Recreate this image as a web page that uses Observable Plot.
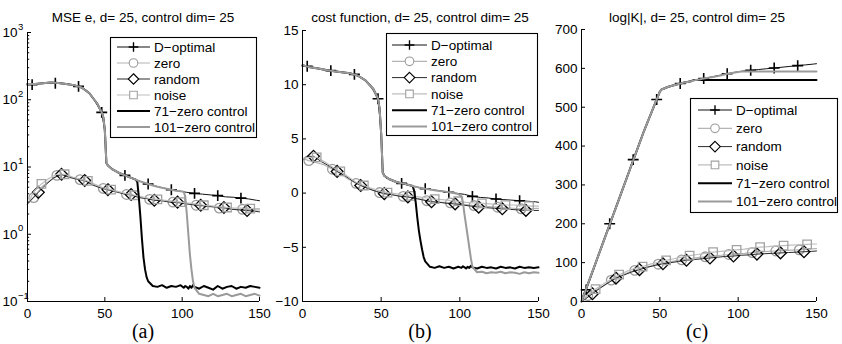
<!DOCTYPE html>
<html>
<head>
<meta charset="utf-8">
<script src="https://cdn.jsdelivr.net/npm/d3@7"></script>
<script src="https://cdn.jsdelivr.net/npm/@observablehq/plot@0.6"></script>
<style>
  html, body { margin: 0; padding: 0; background: #fff; }
  #fig { position: relative; width: 842px; height: 344px; overflow: hidden; background: #fff;
         font-family: "Liberation Sans", Arial, Helvetica, sans-serif; }
  #fig > svg { position: absolute; top: 0; overflow: visible; }
</style>
</head>
<body>
<div id="fig"></div>
<script>
// ---- iteration grids (one per strategy) ----
const xD  = [0,3,8,13,18,23,28,33,38,43,48,50,51,53,58,63,68,73,78,83,88,93,98,103,108,113,118,123,128,133,138,143,148,150];
const xZN = [0,4,9,14,19,24,29,34,39,44,49,54,59,64,69,74,79,84,89,94,99,104,109,114,119,124,129,134,139,144,149,150];
const xR  = [0,2,7,12,17,22,27,32,37,42,47,52,57,62,67,72,77,82,87,92,97,102,107,112,117,122,127,132,137,142,147,150];
const xC  = [0,5,10,15,20,25,30,35,40,45,48,49,50,51,52,55,60,65,70,71,72,73,74,75,76,77,78,81,84,87,90,93,96,99,
             101,102,103,104,105,106,107,108,111,114,117,120,123,126,129,132,135,138,141,144,147,150];

// marker positions
const mD = [3,18,33,48,63,78,93,108,123,138];
const mZ = [4,19,34,49,64,79,94,109,124,139];
const mR = [7,22,37,52,67,82,97,112,127,142];
const mN = [9,24,39,54,69,84,99,114,129,144];

// ---- (a) MSE e ----
const aD   = [172,168,175,178,176,175,168,158,140,100,65,35,11.5,10,8.4,7.5,6.8,6.1,5.6,5.2,4.85,4.6,4.4,4.2,4.05,3.95,3.85,3.75,3.6,3.55,3.45,3.35,3.2,3.15];
const aZ   = [2.8,3.5,5.0,6.2,7.5,7.6,7.0,6.5,6.0,5.4,4.8,4.5,4.2,3.9,3.7,3.5,3.3,3.2,3.1,3.0,2.9,2.8,2.7,2.6,2.55,2.45,2.4,2.35,2.35,2.3,2.3,2.3];
const aR   = [2.8,3.2,4.2,5.5,6.9,7.8,7.0,6.6,6.3,5.4,4.9,4.6,4.3,4.0,3.9,3.5,3.4,3.2,3.15,3.0,3.0,2.85,2.75,2.7,2.6,2.55,2.5,2.35,2.3,2.25,2.2,2.15];
const aN   = [2.8,4.3,5.6,6.8,7.8,7.8,7.1,6.6,6.2,5.5,4.9,4.6,4.3,4.0,3.8,3.6,3.4,3.3,3.2,3.1,3.0,2.9,2.8,2.7,2.65,2.55,2.5,2.45,2.45,2.4,2.4,2.4];
const a71  = [172,172,176,180,178,172,165,152,125,88,65,55,35,11.5,10.5,9.2,8.0,7.2,6.5,6.0,3.5,1.8,0.85,0.45,0.3,0.23,0.2,
              0.17,0.165,0.175,0.16,0.17,0.165,0.175,0.16,0.17,0.165,0.155,0.17,0.16,0.175,0.165,
              0.155,0.17,0.16,0.15,0.17,0.155,0.165,0.17,0.155,0.165,0.16,0.17,0.165,0.16];
const a101 = [172,172,176,180,178,172,165,152,125,88,65,55,35,11.5,10.5,9.2,8.0,7.2,6.5,6.3,6.2,6.1,6.0,5.9,5.8,5.7,5.6,
              5.3,5.1,4.9,4.75,4.6,4.45,4.35,4.3,3.6,2.0,1.0,0.5,0.3,0.2,0.16,
              0.13,0.125,0.12,0.13,0.12,0.125,0.13,0.12,0.125,0.13,0.12,0.125,0.13,0.122];

// ---- (b) cost function ----
const bD   = [11.8,11.7,11.55,11.4,11.3,11.2,11.1,10.95,10.6,10.0,8.7,5.5,1.9,1.4,1.1,0.9,0.7,0.55,0.4,0.3,0.2,0.08,-0.02,-0.12,-0.3,-0.4,-0.45,-0.55,-0.6,-0.65,-0.7,-0.75,-0.8,-0.85];
const bZ   = [3.2,3.0,2.8,2.6,2.2,1.8,1.3,0.9,0.6,0.3,0.05,-0.1,-0.2,-0.3,-0.4,-0.5,-0.7,-0.8,-0.85,-0.9,-0.95,-1.05,-1.15,-1.2,-1.25,-1.3,-1.35,-1.4,-1.45,-1.45,-1.4,-1.4];
const bR   = [3.1,3.3,3.4,2.9,2.5,2.0,1.6,1.1,0.7,0.4,0.15,-0.05,-0.15,-0.3,-0.35,-0.5,-0.65,-0.8,-0.85,-0.95,-1.0,-1.1,-1.2,-1.3,-1.35,-1.4,-1.45,-1.5,-1.55,-1.6,-1.6,-1.6];
const bN   = [3.2,3.3,3.3,2.9,2.4,2.0,1.5,1.0,0.7,0.45,0.2,0.05,-0.05,-0.15,-0.25,-0.35,-0.45,-0.55,-0.6,-0.7,-0.75,-0.85,-0.9,-0.95,-1.0,-1.05,-1.1,-1.1,-1.15,-1.2,-1.2,-1.2];
const b71  = [11.8,11.6,11.5,11.35,11.25,11.15,11.05,10.85,10.4,9.6,8.7,7.8,5.5,1.9,1.6,1.3,1.0,0.85,0.65,
              0.2,-0.9,-2.3,-3.5,-4.4,-5.2,-5.9,-6.3,-6.8,-6.9,-6.75,-6.9,-6.8,-6.95,-6.8,
              -6.9,-6.75,-6.85,-6.95,-6.8,-6.9,-6.7,-6.85,
              -6.95,-6.8,-6.9,-6.85,-6.95,-6.8,-6.9,-6.85,-6.95,-6.8,-6.9,-6.85,-6.9,-6.85];
const b101 = [11.8,11.6,11.5,11.35,11.25,11.15,11.05,10.85,10.4,9.6,8.7,7.8,5.5,1.9,1.6,1.3,1.0,0.85,0.65,
              0.6,0.58,0.55,0.52,0.5,0.47,0.43,0.4,0.33,0.27,0.2,0.14,0.08,0.0,-0.08,
              -0.3,-0.9,-2.0,-3.0,-4.0,-5.0,-6.0,-6.8,
              -7.3,-7.25,-7.4,-7.3,-7.35,-7.25,-7.4,-7.3,-7.35,-7.45,-7.3,-7.4,-7.3,-7.35];

// ---- (c) log|K| ----
const cD   = [0,30,85,145,200,255,310,365,420,470,520,540,545,549,556,561,566,570,574,578,582,586,590,593,595,597,599,601,603,605,607,609,611,612];
const cZ   = [0,15,28,40,55,65,73,80,86,91,96,100,104,107,110,113,115,117,119,121,123,124,126,127,129,130,131,132,133,134,136,136];
const cR   = [0,5,20,35,48,60,68,76,82,88,93,97,100,103,106,108,110,112,114,116,117,119,120,122,123,124,125,126,127,128,129,130];
const cN   = [0,18,32,45,58,69,78,85,90,96,101,106,110,114,118,121,124,127,129,131,133,135,138,140,141,143,144,145,146,147,148,148];
const c71  = [0,55,110,165,220,275,330,385,440,490,520,530,540,545,547,552,558,563,567,
              569,570,570,570,570,570,570,570,570,570,570,570,570,570,570,
              570,570,570,570,570,570,570,570,
              570,570,570,570,570,570,570,570,570,570,570,570,570,570];
const c101 = [0,55,110,165,220,275,330,385,440,490,520,530,540,545,547,552,558,563,567,
              568,569,570,570.5,571,572,573,574,576,578,580,583,586,588,590,
              591,592,592,592,592,592,592,592,
              592,592,592,592,592,592,592,592,592,592,592,592,592,592];

// ---- labels ----
const seriesNames = ["D\u2212optimal","zero","random","noise","71\u2212zero control","101\u2212zero control"];
const titles = ["MSE e, d= 25, control dim= 25","cost function, d= 25, control dim= 25","log|K|, d= 25, control dim= 25"];
const captions = ["(a)","(b)","(c)"];
const xTicks = [0,50,100,150];
const aTicks = [0.1,1,10,100,1000];
const aExponents = ["\u22121","0","1","2","3"];
const bTicks = [-10,-5,0,5,10,15];
const cTicks = [0,100,200,300,400,500,600,700];

// ---- series styling ----
const styles = [
  {xs: xD,  marks: mD, line: "#111",    lw: 1,   sym: "plus",     ms: "#000",    r: 3.6, sw: 1.6},
  {xs: xZN, marks: mZ, line: "#b4b4b4", lw: 1.2, sym: "circle",   ms: "#9c9c9c", r: 4.8, sw: 1.3},
  {xs: xR,  marks: mR, line: "#2a2a2a", lw: 1,   sym: "diamond2", ms: "#000",    r: 5.3, sw: 1.3},
  {xs: xZN, marks: mN, line: "#bebebe", lw: 1.2, sym: "square2",  ms: "#a2a2a2", r: 5.4, sw: 1.3},
  {xs: xC,  line: "#000",    lw: 2},
  {xs: xC,  line: "#9a9a9a", lw: 2}
];

const fig = document.getElementById("fig");
const H = 344, AXIS_BOTTOM = 43;

function panel({left, width, ml, mr, mt, values, y, yTicks, minor, logLabels}) {
  const pw = width - ml - mr, ph = H - mt - AXIS_BOTTOM;
  const marks = [];
  values.forEach((vals, i) => {
    const s = styles[i];
    const rows = s.xs.map((x, j) => ({x, y: vals[j]}));
    marks.push(Plot.line(rows, {x: "x", y: "y", stroke: s.line, strokeWidth: s.lw}));
    if (s.marks) {
      marks.push(Plot.dot(rows.filter(d => s.marks.includes(d.x)),
        {x: "x", y: "y", symbol: s.sym, r: s.r, stroke: s.ms, fill: "none", strokeWidth: s.sw}));
    }
  });
  // axis lines and inward ticks
  marks.push(Plot.ruleX([0], {stroke: "#000", strokeWidth: 1}));
  marks.push(Plot.ruleY([y.domain[0]], {stroke: "#000", strokeWidth: 1}));
  marks.push(Plot.tickX(xTicks, {x: d => d, insetTop: ph - 4, stroke: "#000"}));
  marks.push(Plot.tickY(yTicks, {y: d => d, insetRight: pw - 4, stroke: "#000"}));
  if (minor) marks.push(Plot.tickY(minor, {y: d => d, insetRight: pw - 2.2, stroke: "#000"}));
  if (logLabels) {
    marks.push(Plot.text(yTicks, {y: d => d, frameAnchor: "left", text: () => "10",
      textAnchor: "end", dx: -10, fontSize: 13.5, fill: "#000"}));
    marks.push(Plot.text(yTicks, {y: d => d, frameAnchor: "left", text: (d, i) => logLabels[i],
      textAnchor: "start", dx: -9.5, dy: -6, fontSize: 9.5, fill: "#000"}));
  }
  const svg = Plot.plot({
    width, height: H,
    marginLeft: ml, marginRight: mr, marginTop: mt, marginBottom: AXIS_BOTTOM,
    style: {background: "transparent", fontSize: "13.5px", color: "#000",
            fontFamily: "'Liberation Sans', Arial, Helvetica, sans-serif", overflow: "visible"},
    x: {domain: [0, 150], ticks: xTicks, tickSize: 0, tickPadding: 7, label: null},
    y: logLabels ? {...y, axis: null} : {...y, ticks: yTicks, tickSize: 0, tickPadding: 4, label: null},
    marks
  });
  svg.style.left = left + "px";
  fig.appendChild(svg);
}

const minorLog = [];
[0.1, 1, 10, 100].forEach(dec => [2,3,4,5,6,7,8,9].forEach(k => minorLog.push(dec * k)));

panel({left: 0, width: 280, ml: 27, mr: 21, mt: 32,
       values: [aD, aZ, aR, aN, a71, a101], y: {type: "log", domain: [0.1, 1000]},
       yTicks: aTicks, minor: minorLog, logLabels: aExponents});
panel({left: 280, width: 280, ml: 22, mr: 22, mt: 30,
       values: [bD, bZ, bR, bN, b71, b101], y: {domain: [-10, 15]}, yTicks: bTicks});
panel({left: 560, width: 282, ml: 21, mr: 26, mt: 29,
       values: [cD, cZ, cR, cN, c71, c101], y: {domain: [0, 700]}, yTicks: cTicks});

// ---- titles, captions and legends ----
const ov = d3.select(fig).append("svg")
  .attr("width", 842).attr("height", H).style("left", "0px").style("pointer-events", "none");

const titleX = [143, 420, 697];
titles.forEach((t, i) => ov.append("text").attr("x", titleX[i]).attr("y", 21.5)
  .attr("text-anchor", "middle").attr("font-size", 13.5)
  .attr("font-family", "'Liberation Sans', Arial, sans-serif").attr("fill", "#000").text(t));
captions.forEach((t, i) => ov.append("text").attr("x", titleX[i]).attr("y", 338)
  .attr("text-anchor", "middle").attr("font-size", 20)
  .attr("font-family", "'Liberation Serif', 'Times New Roman', serif").attr("fill", "#000").text(t));

const symbolTypes = {plus: d3.symbolPlus, circle: d3.symbolCircle, diamond2: d3.symbolDiamond2, square2: d3.symbolSquare2};

function legend({x, y, w, h, row0, step, l0, l1, tx}) {
  const g = ov.append("g");
  g.append("rect").attr("x", x + 0.5).attr("y", y + 0.5).attr("width", w).attr("height", h)
    .attr("fill", "#fff").attr("stroke", "#000").attr("stroke-width", 1.1);
  seriesNames.forEach((name, i) => {
    const s = styles[i], cy = y + row0 + i * step;
    g.append("line").attr("x1", x + l0).attr("x2", x + l1).attr("y1", cy).attr("y2", cy)
      .attr("stroke", s.line).attr("stroke-width", s.lw);
    if (s.sym) {
      g.append("path").attr("transform", `translate(${x + (l0 + l1) / 2},${cy})`)
        .attr("d", d3.symbol(symbolTypes[s.sym], Math.PI * s.r * s.r * 0.8)())
        .attr("fill", s.sym === "plus" ? "none" : "#fff").attr("stroke", s.ms).attr("stroke-width", s.sw * 0.85);
    }
    g.append("text").attr("x", x + tx).attr("y", cy + 4.8).attr("font-size", 13.5)
      .attr("font-family", "'Liberation Sans', Arial, sans-serif").attr("fill", "#000").text(name);
  });
}

legend({x: 110, y: 37, w: 146, h: 100, row0: 10, step: 16, l0: 7, l1: 40, tx: 44});
legend({x: 386, y: 33, w: 151, h: 102, row0: 12, step: 16.3, l0: 6, l1: 41, tx: 45});
legend({x: 690, y: 98, w: 147, h: 114, row0: 12, step: 18.3, l0: 8, l1: 42, tx: 46});
</script>
</body>
</html>
